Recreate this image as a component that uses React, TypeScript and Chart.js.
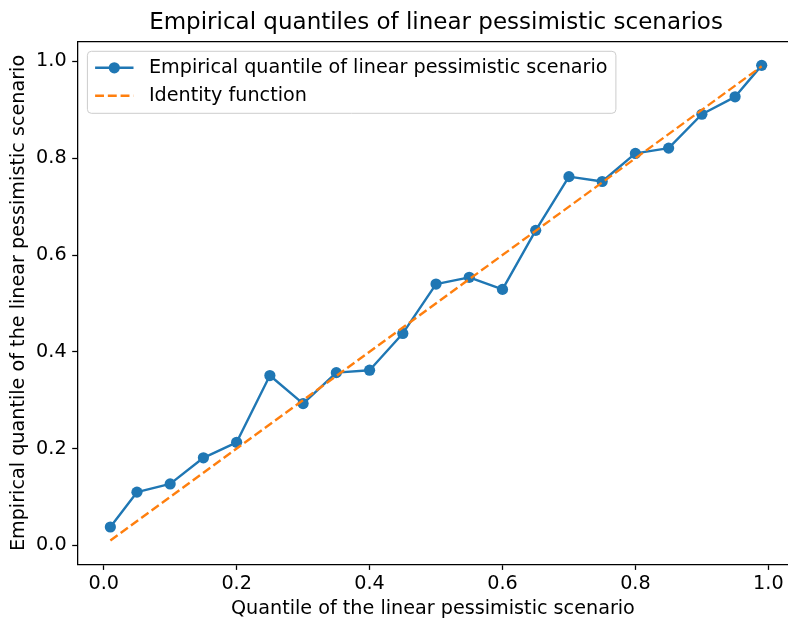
import { useEffect, useRef } from "react";
import { Chart, registerables } from "chart.js";

Chart.register(...registerables);

// Quantile levels and the empirical quantiles observed at each level
const quantileLevels = [
  0.01, 0.05, 0.1, 0.15, 0.2, 0.25, 0.3, 0.35, 0.4, 0.45, 0.5,
  0.55, 0.6, 0.65, 0.7, 0.75, 0.8, 0.85, 0.9, 0.95, 0.99,
];
const empiricalQuantiles = [
  0.038, 0.11, 0.127, 0.181, 0.213, 0.351, 0.293, 0.357, 0.362, 0.438, 0.54,
  0.554, 0.529, 0.651, 0.762, 0.752, 0.81, 0.821, 0.891, 0.927, 0.992,
];

// Reference line y = x over the same range
const identityX = [0.01, 0.99];
const identityY = [0.01, 0.99];

const tickValues = [0, 0.2, 0.4, 0.6, 0.8, 1.0];

const titleText = "Empirical quantiles of linear pessimistic scenarios";
const xAxisLabel = "Quantile of the linear pessimistic scenario";
const yAxisLabel = "Empirical quantile of the linear pessimistic scenario";
const legendLabels = [
  "Empirical quantile of linear pessimistic scenario",
  "Identity function",
];

const BLUE = "#1f77b4";
const ORANGE = "#ff7f0e";
const FONT = "'DejaVu Sans', 'Liberation Sans', sans-serif";
const FONT_SIZE = 19.2;
const LINE_W = 2.4;
const POINT_R = 5.6;
const DASH = [8.9, 3.84];
const SPINE_W = 1.28;

// Draws the title, the top spine and a boxed legend
const decorations = {
  id: "decorations",
  afterDraw(chart: Chart) {
    const { ctx, chartArea } = chart;
    const xs = chart.scales.x;
    ctx.save();

    // top spine
    ctx.strokeStyle = "#000";
    ctx.lineWidth = SPINE_W;
    ctx.beginPath();
    ctx.moveTo(chartArea.left - SPINE_W / 2, chartArea.top);
    ctx.lineTo(chartArea.right, chartArea.top);
    ctx.stroke();

    // title, centred over the full axes span
    const axesLeft = xs.getPixelForValue(-0.039);
    const axesRight = xs.getPixelForValue(1.039);
    ctx.fillStyle = "#000";
    ctx.font = `23px ${FONT}`;
    ctx.textAlign = "center";
    ctx.textBaseline = "alphabetic";
    ctx.fillText(titleText, (axesLeft + axesRight) / 2, 28.5);

    // legend box
    const bx = chartArea.left + 9.6;
    const by = chartArea.top + 9.6;
    const bw = 528.5;
    const bh = 62;
    const r = 4;
    ctx.beginPath();
    ctx.moveTo(bx + r, by);
    ctx.lineTo(bx + bw - r, by);
    ctx.quadraticCurveTo(bx + bw, by, bx + bw, by + r);
    ctx.lineTo(bx + bw, by + bh - r);
    ctx.quadraticCurveTo(bx + bw, by + bh, bx + bw - r, by + bh);
    ctx.lineTo(bx + r, by + bh);
    ctx.quadraticCurveTo(bx, by + bh, bx, by + bh - r);
    ctx.lineTo(bx, by + r);
    ctx.quadraticCurveTo(bx, by, bx + r, by);
    ctx.closePath();
    ctx.fillStyle = "rgba(255,255,255,0.8)";
    ctx.fill();
    ctx.strokeStyle = "#cccccc";
    ctx.lineWidth = 1;
    ctx.stroke();

    const hx0 = bx + 7.7;
    const hx1 = hx0 + 38.4;
    const tx = hx1 + 15.4;
    const rows = [by + 16.5, by + 44.5];

    // solid line + marker handle
    ctx.strokeStyle = BLUE;
    ctx.lineWidth = LINE_W;
    ctx.setLineDash([]);
    ctx.beginPath();
    ctx.moveTo(hx0, rows[0]);
    ctx.lineTo(hx1, rows[0]);
    ctx.stroke();
    ctx.fillStyle = BLUE;
    ctx.beginPath();
    ctx.arc((hx0 + hx1) / 2, rows[0], POINT_R, 0, Math.PI * 2);
    ctx.fill();

    // dashed handle
    ctx.strokeStyle = ORANGE;
    ctx.lineCap = "butt";
    ctx.setLineDash(DASH);
    ctx.beginPath();
    ctx.moveTo(hx0, rows[1]);
    ctx.lineTo(hx1, rows[1]);
    ctx.stroke();
    ctx.setLineDash([]);

    ctx.fillStyle = "#000";
    ctx.font = `${FONT_SIZE}px ${FONT}`;
    ctx.textAlign = "left";
    ctx.textBaseline = "middle";
    legendLabels.forEach((label, i) => ctx.fillText(label, tx, rows[i]));

    ctx.restore();
  },
};

export default function App() {
  const canvasRef = useRef<HTMLCanvasElement | null>(null);

  useEffect(() => {
    const canvas = canvasRef.current;
    if (!canvas) return;

    const textFont = { family: FONT, size: FONT_SIZE };
    const chart = new Chart(canvas, {
      type: "line",
      data: {
        datasets: [
          {
            label: legendLabels[0],
            data: quantileLevels.map((q, i) => ({ x: q, y: empiricalQuantiles[i] })),
            borderColor: BLUE,
            backgroundColor: BLUE,
            borderWidth: LINE_W,
            borderJoinStyle: "round",
            pointRadius: POINT_R,
            pointBorderWidth: 0,
            pointBackgroundColor: BLUE,
            pointBorderColor: BLUE,
            pointHoverRadius: POINT_R,
            tension: 0,
            fill: false,
            order: 1,
          },
          {
            label: legendLabels[1],
            data: identityX.map((q, i) => ({ x: q, y: identityY[i] })),
            borderColor: ORANGE,
            backgroundColor: ORANGE,
            borderWidth: LINE_W,
            borderDash: DASH,
            borderCapStyle: "butt",
            pointRadius: 0,
            pointHoverRadius: 0,
            tension: 0,
            fill: false,
            order: 0,
          },
        ],
      },
      options: {
        responsive: false,
        animation: false,
        devicePixelRatio: 1,
        events: [],
        layout: { autoPadding: false, padding: { left: 0, top: 41.7, right: 0, bottom: 0 } },
        plugins: {
          legend: { display: false },
          title: { display: false },
          tooltip: { enabled: false },
        },
        scales: {
          x: {
            type: "linear",
            position: "bottom",
            min: -0.039,
            max: 1.0296,
            afterFit: (s: any) => {
              s.height = 56.7;
              s.paddingLeft = 0;
              s.paddingRight = 0;
            },
            afterBuildTicks: (s: any) => {
              s.ticks = tickValues.map((v) => ({ value: v }));
            },
            grid: {
              display: true,
              drawOnChartArea: false,
              drawTicks: true,
              tickLength: 5.6,
              tickWidth: SPINE_W,
              tickColor: "#000",
            },
            border: { display: true, color: "#000", width: SPINE_W },
            ticks: {
              padding: 2.6,
              color: "#000",
              font: textFont,
              maxRotation: 0,
              autoSkip: false,
              callback: (v: any) => Number(v).toFixed(1),
            },
            title: {
              display: true,
              text: xAxisLabel,
              color: "#000",
              font: textFont,
              padding: { top: 0, bottom: 0.3 },
            },
          },
          y: {
            type: "linear",
            position: "left",
            min: -0.0391,
            max: 1.0409,
            afterFit: (s: any) => {
              s.width = 77.8;
              s.paddingTop = 0;
              s.paddingBottom = 0;
            },
            afterBuildTicks: (s: any) => {
              s.ticks = tickValues.map((v) => ({ value: v }));
            },
            grid: {
              display: true,
              drawOnChartArea: false,
              drawTicks: true,
              tickLength: 5.6,
              tickWidth: SPINE_W,
              tickColor: "#000",
            },
            border: { display: true, color: "#000", width: SPINE_W },
            ticks: {
              padding: 5.6,
              color: "#000",
              font: textFont,
              autoSkip: false,
              callback: (v: any) => Number(v).toFixed(1),
            },
            title: {
              display: true,
              text: yAxisLabel,
              color: "#000",
              font: textFont,
              padding: { top: 7.1, bottom: 0 },
            },
          },
        },
      },
      plugins: [decorations],
    });

    return () => chart.destroy();
  }, []);

  return (
    <div style={{ position: "absolute", left: 0, top: 0, width: 788, height: 621, background: "#fff" }}>
      <canvas ref={canvasRef} width={788} height={621} style={{ display: "block", width: 788, height: 621 }} />
    </div>
  );
}
